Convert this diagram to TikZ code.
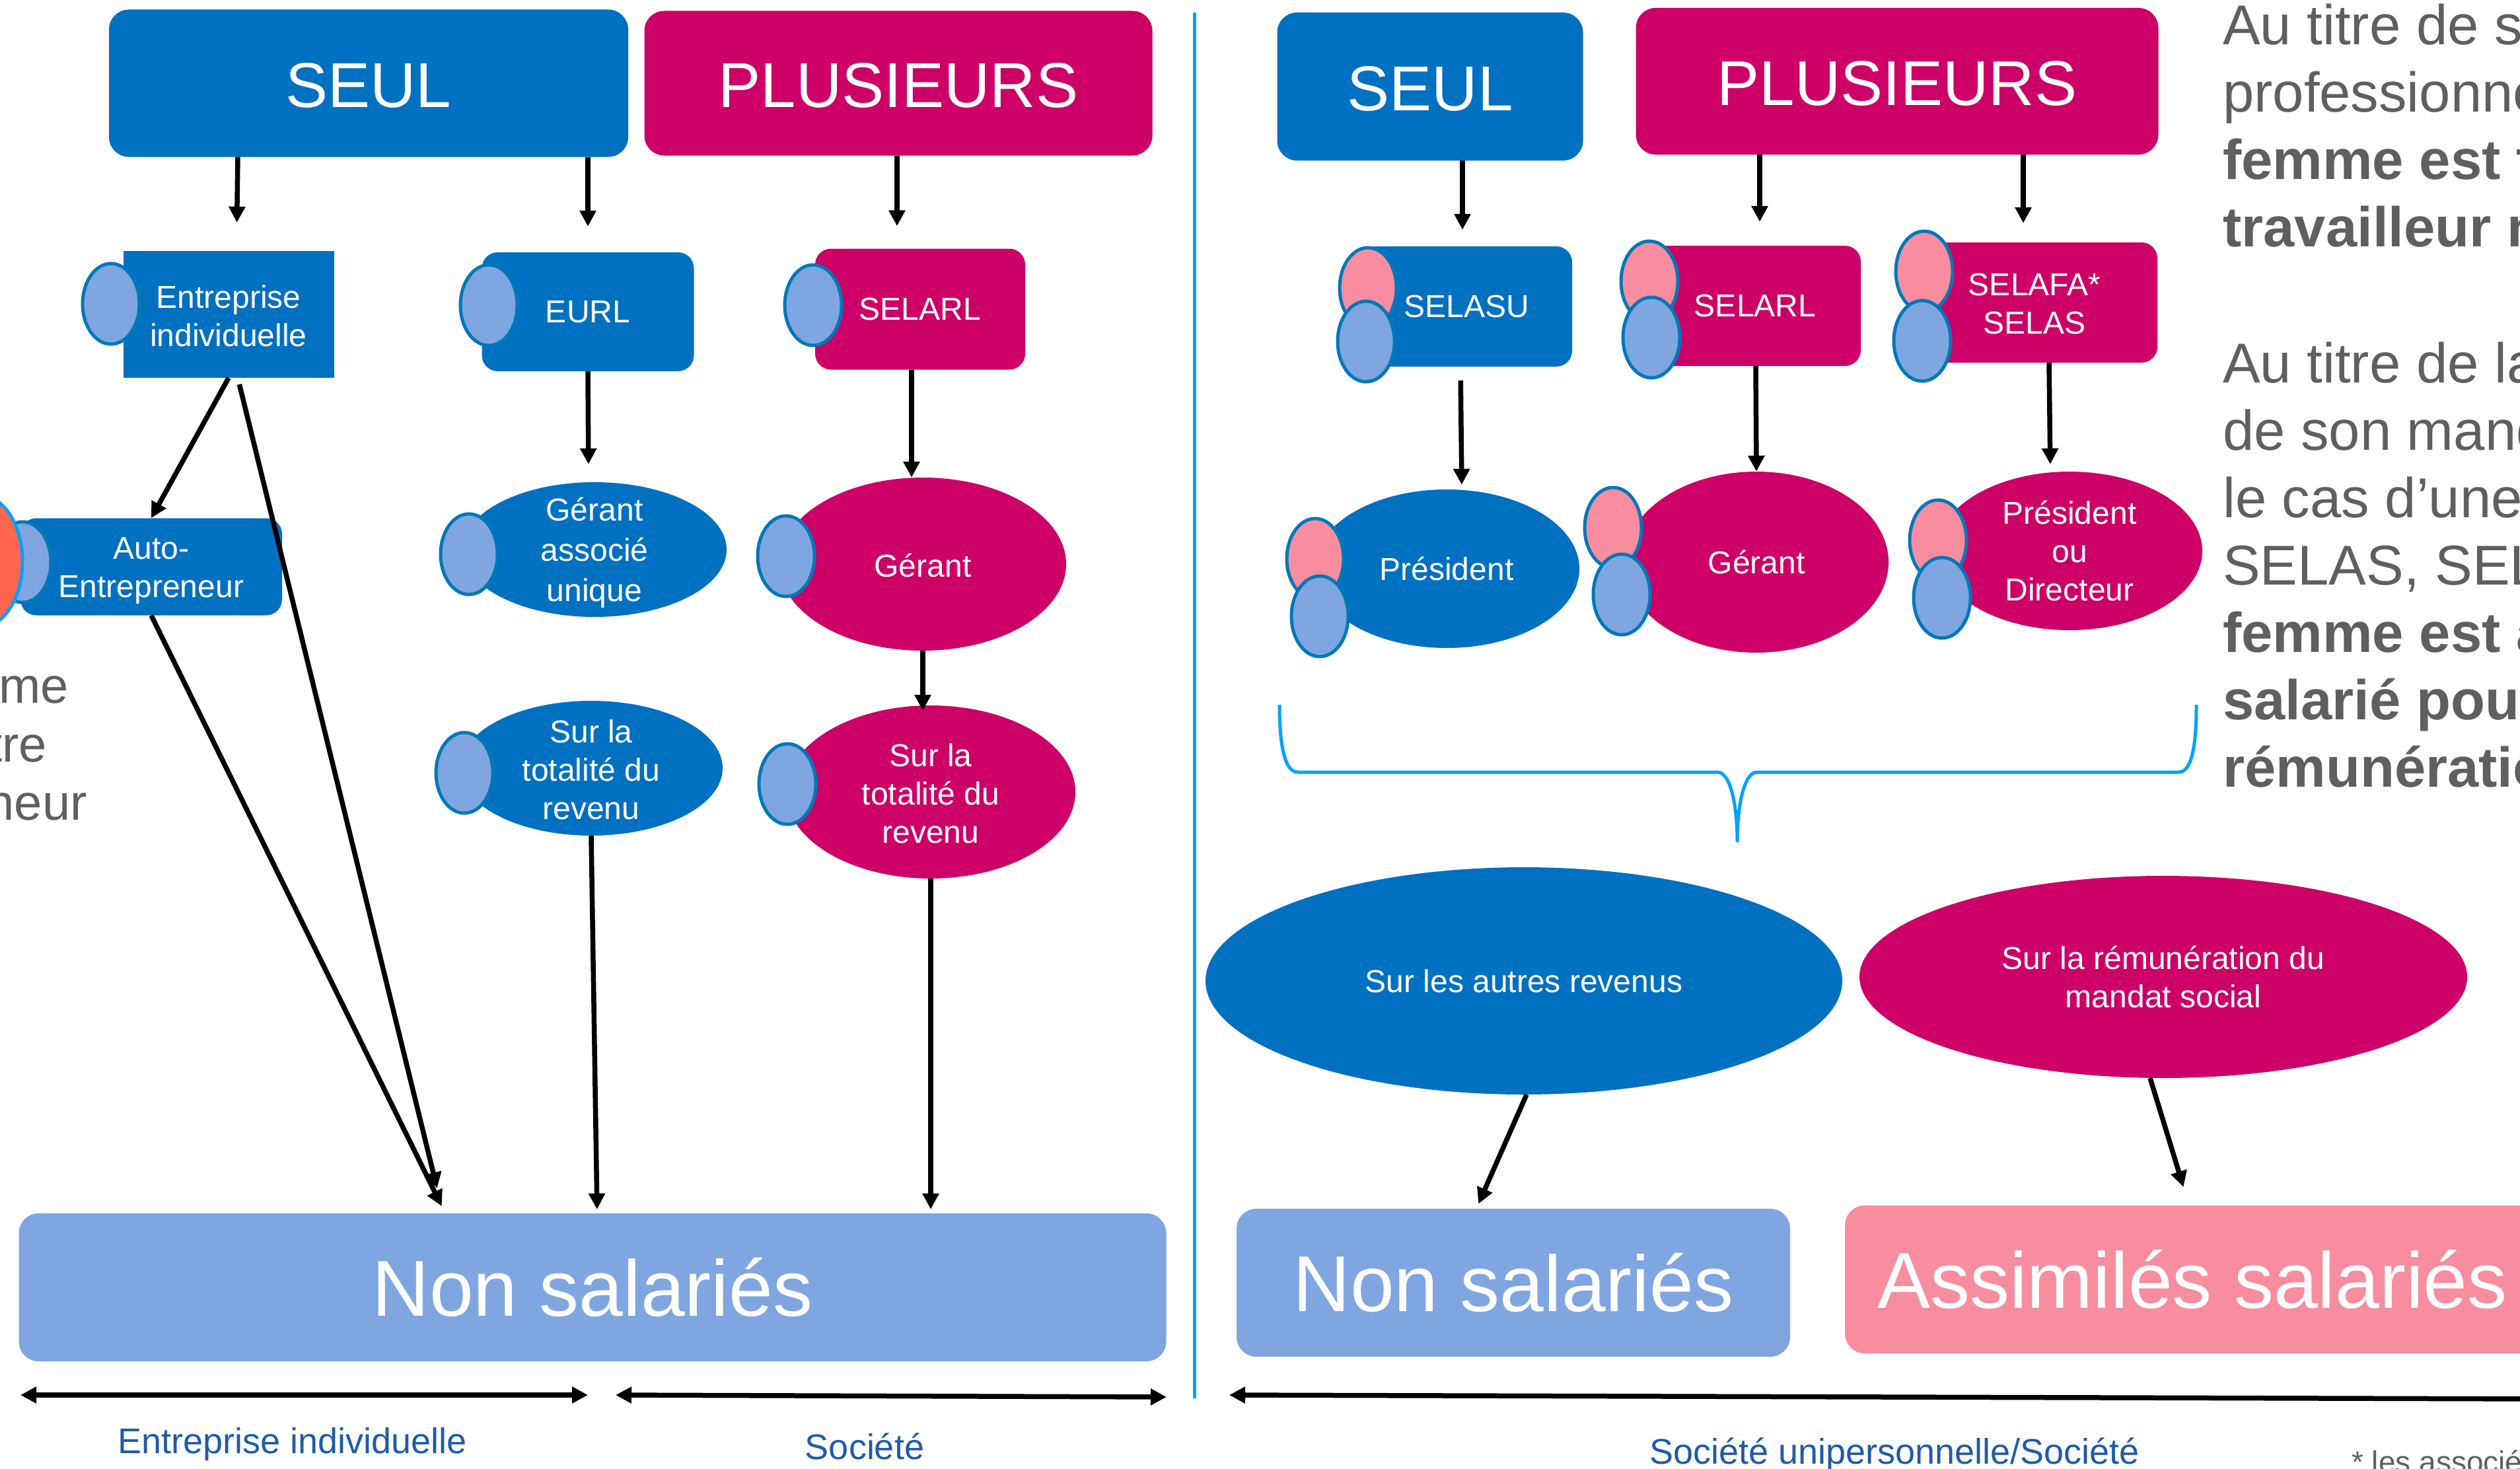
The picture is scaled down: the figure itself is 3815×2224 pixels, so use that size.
\documentclass[tikz,border=0pt]{standalone}
\usepackage{fontspec}
\setmainfont{Liberation Sans}
\usepackage{tikz}
\usetikzlibrary{arrows.meta}
\usetikzlibrary{shapes.geometric}
\definecolor{bleu}{HTML}{0070C0}
\definecolor{magenta}{HTML}{CC0066}
\definecolor{bleuclair}{HTML}{7FA6E0}
\definecolor{rose}{HTML}{F78D9F}
\definecolor{rouge}{HTML}{FF6650}
\definecolor{trait}{HTML}{0078B8}
\definecolor{vif}{HTML}{00A2FF}
\definecolor{gris}{HTML}{5F5F5F}
\definecolor{legende}{HTML}{1F5BA8}
\tikzset{
	lift/.style={execute at begin node={\rule{0pt}{#1}}},
	head/.style={rectangle,rounded corners=30pt,inner sep=0,text=white,lift=73pt,font=\fontsize{96}{110}\selectfont},
	big/.style={rectangle,rounded corners=30pt,inner sep=0,text=white,font=\fontsize{120}{140}\selectfont},
	box/.style={rectangle,rounded corners=24pt,inner sep=0,text=white,align=center,font=\fontsize{48}{58}\selectfont},
	oval/.style={ellipse,inner sep=-40pt,text=white,align=center,font=\fontsize{48}{58}\selectfont},
	pers/.style={ellipse,draw=trait,line width=5pt,minimum width=86pt,minimum height=122pt,inner sep=0},
	arr/.style={-{Triangle[width=24pt,length=24pt]},line width=7.5pt,black},
	span/.style={{Triangle[width=24pt,length=24pt]}-{Triangle[width=24pt,length=24pt]},line width=7.5pt,black},
	rule/.style={vif,line width=5pt},
	side/.style={inner sep=0,text=gris,align=left,anchor=north west,font=\fontsize{85}{102}\selectfont},
	leg/.style={inner sep=0,text=legende,font=\fontsize{54}{64}\selectfont},
}
\begin{document}
\begin{tikzpicture}[x=1pt,y=-1pt]
	\useasboundingbox (0,0) rectangle (3815,2224);
	\clip (0,0) rectangle (3815,2224);
	
	% left part
	
	\node[head,fill=bleu,minimum width=786pt,minimum height=223pt] (seulA) at (558,126) {SEUL};
	\node[head,fill=magenta,minimum width=769pt,minimum height=219pt] (plusA) at (1360,126) {PLUSIEURS};
	
	\node[box,fill=bleu,lift=98pt,rounded corners=0pt,minimum width=319pt,minimum height=192pt] (entA) at (346,476) {Entreprise\\individuelle};
	\node[box,fill=bleu,minimum width=321pt,minimum height=180pt] (eurl) at (890,472) {EURL};
	\node[box,fill=magenta,minimum width=318pt,minimum height=183pt] (selarlA) at (1393,468) {SELARL};
	\node[box,fill=bleu,lift=103pt,minimum width=396pt,minimum height=147pt] (autoB) at (229,858) {Auto-\\Entrepreneur};
	
	\node[oval,fill=bleu,lift=166pt,minimum width=400pt,minimum height=204pt,font=\fontsize{48}{61}\selectfont] (gerA) at (900,832) {Gérant\\associé\\unique};
	\node[oval,fill=magenta,lift=40pt,minimum width=434pt,minimum height=262pt] (gerB) at (1397,854) {Gérant};
	\node[oval,fill=bleu,lift=156pt,minimum width=398pt,minimum height=204pt] (surA) at (895,1163) {Sur la\\totalité du\\revenu};
	\node[oval,fill=magenta,lift=156pt,minimum width=438pt,minimum height=262pt] (surB) at (1409,1199) {Sur la\\totalité du\\revenu};
	
	\foreach \nm/\px/\py in {pa/168/460,pb/740/462,pc/1231/462,pd/34/851,pe/710/839,pf/1190/842,pg/703/1170,ph/1192/1187} {
		\node[pers,fill=bleuclair] (\nm) at (\px,\py) {};
	}
	\node[ellipse,draw=vif,line width=5pt,fill=rouge,minimum width=128pt,minimum height=200pt,inner sep=0] (rougeA) at (-30,850) {};
	
	\node[big,fill=bleuclair,minimum width=1737pt,minimum height=224pt] (nonA) at (897,1949) {Non salariés};
	
	\draw[arr,shorten >=43pt] ([xshift=-198]seulA.south) -- ([xshift=12]entA.north);
	\draw[arr,shorten >=39pt] ([xshift=332]seulA.south) -- (eurl.north);
	\draw[arr,shorten >=34pt] ([xshift=-2]plusA.south) -- ([xshift=-35]selarlA.north);
	\draw[arr] (entA.south) -- (autoB.north);
	\draw[arr,shorten <=10pt,shorten >=39pt] ([xshift=14]entA.south) -- ([xshift=-226]nonA.north);
	\draw[arr,shorten >=12pt] (autoB.south) -- ([xshift=-223]nonA.north);
	\draw[arr,shorten >=27pt] (eurl.south) -- ([xshift=-9]gerA.north);
	\draw[arr] ([xshift=-13]selarlA.south) -- ([xshift=-17]gerB.north);
	\draw[arr,shorten >=-8pt] (gerB.south) -- ([xshift=-12]surB.north);
	\draw[arr,shorten >=6pt] (surA.south) -- ([xshift=7]nonA.north);
	\draw[arr,shorten >=6pt] (surB.south) -- ([xshift=512]nonA.north);
	
	% right part
	
	\node[head,fill=bleu,minimum width=463pt,minimum height=224pt] (seulB) at (2165,131) {SEUL};
	\node[head,fill=magenta,minimum width=791pt,minimum height=222pt] (plusB) at (2872,123) {PLUSIEURS};
	
	\node[box,fill=bleu,minimum width=320pt,minimum height=182pt] (selasu) at (2220,464) {SELASU};
	\node[box,fill=magenta,minimum width=320pt,minimum height=182pt] (selarlB) at (2657,463) {SELARL};
	\node[box,fill=magenta,lift=95pt,minimum width=372pt,minimum height=182pt] (selafa) at (3080,458) {SELAFA*\\SELAS};
	
	\node[oval,fill=bleu,minimum width=402pt,minimum height=240pt] (presA) at (2190,861) {Président};
	\node[oval,fill=magenta,minimum width=400pt,minimum height=274pt] (gerC) at (2659,851) {Gérant};
	\node[oval,fill=magenta,minimum width=402pt,minimum height=240pt] (presB) at (3133,834) {Président\\ou\\Directeur};
	
	\foreach \nm/\px/\py in {ra/2071/436,rb/2497/426,rc/2913/411,rd/1991/846,re/2442/799,rf/2934/818} {
		\node[pers,fill=rose] (\nm) at (\px,\py) {};
	}
	\foreach \nm/\px/\py in {sa/2068/517,sb/2500/511,sc/2910/516,sd/1998/933,se/2455/900,sf/2940/905} {
		\node[pers,fill=bleuclair] (\nm) at (\px,\py) {};
	}
	
	\node[oval,fill=bleu,minimum width=964pt,minimum height=344pt] (autres) at (2307,1485) {Sur les autres revenus};
	\node[oval,fill=magenta,minimum width=920pt,minimum height=306pt] (remun) at (3275,1479) {Sur la rémunération du\\mandat social};
	
	\node[big,fill=bleuclair,minimum width=838pt,minimum height=224pt] (nonB) at (2291,1942) {Non salariés};
	\node[big,fill=rose,minimum width=1052pt,minimum height=224pt] (assim) at (3319,1937) {Assimilés salariés};
	
	\draw[arr,shorten >=25pt] ([xshift=49]seulB.south) -- ([xshift=-6]selasu.north);
	\draw[arr,shorten >=36pt] ([xshift=-208]plusB.south) -- ([xshift=7]selarlB.north);
	\draw[arr,shorten >=29pt] ([xshift=191]plusB.south) -- ([xshift=-17]selafa.north);
	\draw[arr,shorten <=21pt,shorten >=7pt] ([xshift=-9]selasu.south) -- ([xshift=23]presA.north);
	\draw[arr] ([xshift=1]selarlB.south) -- (gerC.north);
	\draw[arr,shorten >=11pt] ([xshift=22]selafa.south) -- ([xshift=-29]presB.north);
	\draw[arr,shorten >=8pt] ([xshift=4]autres.south) -- ([xshift=-56]nonB.north);
	\draw[arr,shorten >=29pt] ([xshift=-20]remun.south) -- ([xshift=-5]assim.north);
	
	% divider, brace, ranges
	
	\coordinate (divT) at (1808,19);
	\coordinate (divB) at (1808,2117);
	\draw[rule] (divT) -- (divB);
	
	\draw[rule] (1937,1067) .. controls (1937,1130) and (1945,1169) .. (1965,1169) -- (2600,1169)
		.. controls (2620,1169) and (2630,1220) .. (2630,1275)
		.. controls (2630,1220) and (2640,1169) .. (2660,1169) -- (3298,1169)
		.. controls (3318,1169) and (3325,1130) .. (3325,1067);
	
	\coordinate (ra1) at (31,2112);
	\coordinate (ra2) at (890,2112);
	\coordinate (rb1) at (932,2112);
	\coordinate (rb2) at (1766,2115);
	\coordinate (rc1) at (1861,2112);
	\coordinate (rc2) at (3850,2118);
	\draw[span] (ra1) -- (ra2);
	\draw[span] (rb1) -- (rb2);
	\draw[span] (rc1) -- (rc2);
	
	\node[leg] (legA) at (443,2187) {Entreprise individuelle};
	\node[leg] (legB) at (1309,2190) {Société};
	\node[leg] (legC) at (2868,2202) {Société unipersonnelle/Société};
	\node[inner sep=0,anchor=base west,text=gris,font=\fontsize{46}{54}\selectfont] (note) at (3560,2229) {* les associés};
	
	% texts cut by the page edge
	
	\node[side] (txtA) at (3365,6) {Au titre de s\\professionnel\\\textbf{femme est t}\\\textbf{travailleur n}};
	\node[side] (txtB) at (3365,518) {Au titre de la\\de son mandat\\le cas d’une\\SELAS, SEL\\\textbf{femme est a}\\\textbf{salarié pour}\\\textbf{rémunération}};
	
	\foreach \nm/\tx/\px/\py in {fa/me/104/1064,fb/tre/71/1153,fc/neur/132/1241} {
		\node[inner sep=0,anchor=base east,text=gris,font=\fontsize{76}{90}\selectfont] (\nm) at (\px,\py) {\tx};
	}
\end{tikzpicture}
\end{document}
